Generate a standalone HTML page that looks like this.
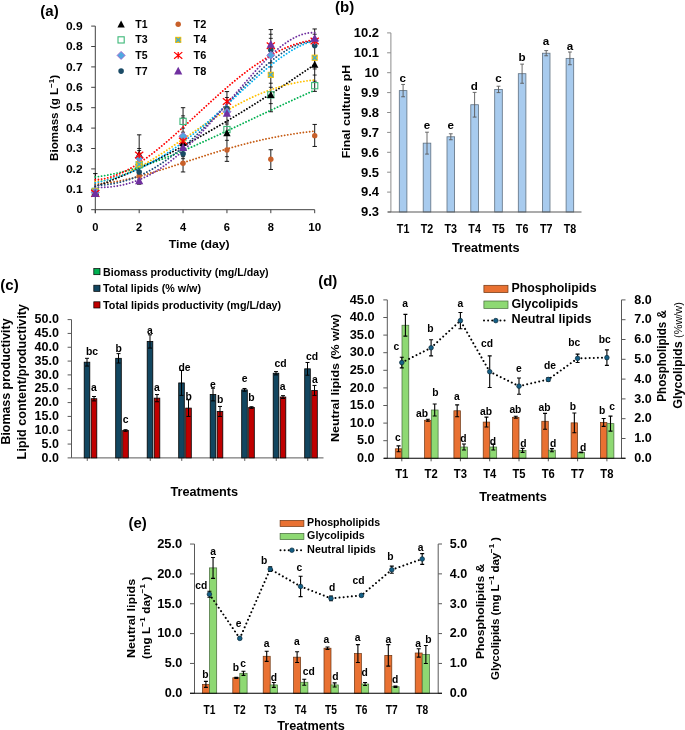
<!DOCTYPE html>
<html><head><meta charset="utf-8"><title>Figure</title>
<style>
html,body{margin:0;padding:0;background:#fff;}
body{width:685px;height:730px;overflow:hidden;}
svg{display:block;font-family:"Liberation Sans", sans-serif;font-weight:bold;will-change:transform;}
</style></head>
<body>
<svg width="685" height="730" viewBox="0 0 685 730">
<rect width="685" height="730" fill="#fff"/>
<text x="40.30" y="15.80" font-size="15" text-anchor="start">(a)</text>
<line x1="95.30" y1="26.10" x2="95.30" y2="213.20" stroke="#404040" stroke-width="1"/>
<line x1="95.30" y1="209.70" x2="314.70" y2="209.70" stroke="#404040" stroke-width="1"/>
<line x1="91.20" y1="209.70" x2="95.30" y2="209.70" stroke="#404040" stroke-width="1"/>
<text x="82.60" y="213.30" font-size="11.7" text-anchor="end" textLength="6.20" lengthAdjust="spacingAndGlyphs">0</text>
<line x1="91.20" y1="189.30" x2="95.30" y2="189.30" stroke="#404040" stroke-width="1"/>
<text x="82.60" y="192.90" font-size="11.7" text-anchor="end" textLength="16.70" lengthAdjust="spacingAndGlyphs">0.1</text>
<line x1="91.20" y1="168.90" x2="95.30" y2="168.90" stroke="#404040" stroke-width="1"/>
<text x="82.60" y="172.50" font-size="11.7" text-anchor="end" textLength="16.70" lengthAdjust="spacingAndGlyphs">0.2</text>
<line x1="91.20" y1="148.50" x2="95.30" y2="148.50" stroke="#404040" stroke-width="1"/>
<text x="82.60" y="152.10" font-size="11.7" text-anchor="end" textLength="16.70" lengthAdjust="spacingAndGlyphs">0.3</text>
<line x1="91.20" y1="128.10" x2="95.30" y2="128.10" stroke="#404040" stroke-width="1"/>
<text x="82.60" y="131.70" font-size="11.7" text-anchor="end" textLength="16.70" lengthAdjust="spacingAndGlyphs">0.4</text>
<line x1="91.20" y1="107.70" x2="95.30" y2="107.70" stroke="#404040" stroke-width="1"/>
<text x="82.60" y="111.30" font-size="11.7" text-anchor="end" textLength="16.70" lengthAdjust="spacingAndGlyphs">0.5</text>
<line x1="91.20" y1="87.30" x2="95.30" y2="87.30" stroke="#404040" stroke-width="1"/>
<text x="82.60" y="90.90" font-size="11.7" text-anchor="end" textLength="16.70" lengthAdjust="spacingAndGlyphs">0.6</text>
<line x1="91.20" y1="66.90" x2="95.30" y2="66.90" stroke="#404040" stroke-width="1"/>
<text x="82.60" y="70.50" font-size="11.7" text-anchor="end" textLength="16.70" lengthAdjust="spacingAndGlyphs">0.7</text>
<line x1="91.20" y1="46.50" x2="95.30" y2="46.50" stroke="#404040" stroke-width="1"/>
<text x="82.60" y="50.10" font-size="11.7" text-anchor="end" textLength="16.70" lengthAdjust="spacingAndGlyphs">0.8</text>
<line x1="91.20" y1="26.10" x2="95.30" y2="26.10" stroke="#404040" stroke-width="1"/>
<text x="82.60" y="29.70" font-size="11.7" text-anchor="end" textLength="16.70" lengthAdjust="spacingAndGlyphs">0.9</text>
<line x1="95.30" y1="209.70" x2="95.30" y2="213.20" stroke="#404040" stroke-width="1"/>
<text x="95.30" y="230.50" font-size="11.7" text-anchor="middle" textLength="6.20" lengthAdjust="spacingAndGlyphs">0</text>
<line x1="139.18" y1="209.70" x2="139.18" y2="213.20" stroke="#404040" stroke-width="1"/>
<text x="139.18" y="230.50" font-size="11.7" text-anchor="middle" textLength="6.20" lengthAdjust="spacingAndGlyphs">2</text>
<line x1="183.06" y1="209.70" x2="183.06" y2="213.20" stroke="#404040" stroke-width="1"/>
<text x="183.06" y="230.50" font-size="11.7" text-anchor="middle" textLength="6.20" lengthAdjust="spacingAndGlyphs">4</text>
<line x1="226.94" y1="209.70" x2="226.94" y2="213.20" stroke="#404040" stroke-width="1"/>
<text x="226.94" y="230.50" font-size="11.7" text-anchor="middle" textLength="6.20" lengthAdjust="spacingAndGlyphs">6</text>
<line x1="270.82" y1="209.70" x2="270.82" y2="213.20" stroke="#404040" stroke-width="1"/>
<text x="270.82" y="230.50" font-size="11.7" text-anchor="middle" textLength="6.20" lengthAdjust="spacingAndGlyphs">8</text>
<line x1="314.70" y1="209.70" x2="314.70" y2="213.20" stroke="#404040" stroke-width="1"/>
<text x="314.70" y="230.50" font-size="11.7" text-anchor="middle" textLength="13.00" lengthAdjust="spacingAndGlyphs">10</text>
<text x="199.20" y="248.00" font-size="11.7" text-anchor="middle" textLength="60.90" lengthAdjust="spacingAndGlyphs">Time (day)</text>
<text x="0" y="0" font-size="11.7" text-anchor="middle" transform="translate(58.30 117.90) rotate(-90)" textLength="86.0" lengthAdjust="spacingAndGlyphs">Biomass (g L<tspan dy="-4.5" font-size="8">−1</tspan><tspan dy="4.5">)</tspan></text>
<path d="M95.30,173.59V195.01M93.10,173.59H97.50M93.10,195.01H97.50" stroke="#000" stroke-width="0.9" fill="none"/>
<path d="M139.18,134.83V184.20M136.98,134.83H141.38M136.98,184.20H141.38" stroke="#000" stroke-width="0.9" fill="none"/>
<path d="M183.06,107.70V171.96M180.86,107.70H185.26M180.86,171.96H185.26" stroke="#000" stroke-width="0.9" fill="none"/>
<path d="M226.94,91.58V161.35M224.74,91.58H229.14M224.74,161.35H229.14" stroke="#000" stroke-width="0.9" fill="none"/>
<path d="M270.82,29.57V111.78M268.62,29.57H273.02M268.62,111.78H273.02" stroke="#000" stroke-width="0.9" fill="none"/>
<path d="M314.70,28.96V91.38M312.50,28.96H316.90M312.50,91.38H316.90" stroke="#000" stroke-width="0.9" fill="none"/>
<path d="M270.82,149.72V169.51M268.62,149.72H273.02M268.62,169.51H273.02" stroke="#000" stroke-width="0.9" fill="none"/>
<path d="M314.70,124.43V146.46M312.50,124.43H316.90M312.50,146.46H316.90" stroke="#000" stroke-width="0.9" fill="none"/>
<line x1="137.18" y1="150.54" x2="141.18" y2="150.54" stroke="#000" stroke-width="0.8"/>
<line x1="137.18" y1="148.50" x2="141.18" y2="148.50" stroke="#000" stroke-width="0.8"/>
<line x1="137.18" y1="160.74" x2="141.18" y2="160.74" stroke="#000" stroke-width="0.8"/>
<line x1="137.18" y1="166.86" x2="141.18" y2="166.86" stroke="#000" stroke-width="0.8"/>
<line x1="137.18" y1="179.10" x2="141.18" y2="179.10" stroke="#000" stroke-width="0.8"/>
<line x1="181.06" y1="117.90" x2="185.06" y2="117.90" stroke="#000" stroke-width="0.8"/>
<line x1="181.06" y1="115.86" x2="185.06" y2="115.86" stroke="#000" stroke-width="0.8"/>
<line x1="181.06" y1="128.10" x2="185.06" y2="128.10" stroke="#000" stroke-width="0.8"/>
<line x1="181.06" y1="132.18" x2="185.06" y2="132.18" stroke="#000" stroke-width="0.8"/>
<line x1="181.06" y1="158.70" x2="185.06" y2="158.70" stroke="#000" stroke-width="0.8"/>
<line x1="181.06" y1="156.66" x2="185.06" y2="156.66" stroke="#000" stroke-width="0.8"/>
<line x1="224.94" y1="97.50" x2="228.94" y2="97.50" stroke="#000" stroke-width="0.8"/>
<line x1="224.94" y1="121.98" x2="228.94" y2="121.98" stroke="#000" stroke-width="0.8"/>
<line x1="224.94" y1="124.02" x2="228.94" y2="124.02" stroke="#000" stroke-width="0.8"/>
<line x1="224.94" y1="140.34" x2="228.94" y2="140.34" stroke="#000" stroke-width="0.8"/>
<line x1="224.94" y1="148.50" x2="228.94" y2="148.50" stroke="#000" stroke-width="0.8"/>
<line x1="224.94" y1="156.66" x2="228.94" y2="156.66" stroke="#000" stroke-width="0.8"/>
<line x1="268.82" y1="34.26" x2="272.82" y2="34.26" stroke="#000" stroke-width="0.8"/>
<line x1="268.82" y1="38.34" x2="272.82" y2="38.34" stroke="#000" stroke-width="0.8"/>
<line x1="268.82" y1="62.82" x2="272.82" y2="62.82" stroke="#000" stroke-width="0.8"/>
<line x1="268.82" y1="66.90" x2="272.82" y2="66.90" stroke="#000" stroke-width="0.8"/>
<line x1="268.82" y1="83.22" x2="272.82" y2="83.22" stroke="#000" stroke-width="0.8"/>
<line x1="268.82" y1="87.30" x2="272.82" y2="87.30" stroke="#000" stroke-width="0.8"/>
<line x1="268.82" y1="103.62" x2="272.82" y2="103.62" stroke="#000" stroke-width="0.8"/>
<line x1="312.70" y1="34.26" x2="316.70" y2="34.26" stroke="#000" stroke-width="0.8"/>
<line x1="312.70" y1="68.94" x2="316.70" y2="68.94" stroke="#000" stroke-width="0.8"/>
<line x1="312.70" y1="75.06" x2="316.70" y2="75.06" stroke="#000" stroke-width="0.8"/>
<line x1="312.70" y1="81.18" x2="316.70" y2="81.18" stroke="#000" stroke-width="0.8"/>
<path d="M95.30,184.26 L97.49,184.10 L99.69,183.91 L101.88,183.70 L104.08,183.45 L106.27,183.17 L108.46,182.87 L110.66,182.55 L112.85,182.19 L115.05,181.82 L117.24,181.42 L119.43,180.99 L121.63,180.55 L123.82,180.09 L126.02,179.60 L128.21,179.10 L130.40,178.58 L132.60,178.04 L134.79,177.49 L136.99,176.92 L139.18,176.34 L141.37,175.74 L143.57,175.14 L145.76,174.51 L147.96,173.88 L150.15,173.24 L152.34,172.59 L154.54,171.92 L156.73,171.25 L158.93,170.57 L161.12,169.89 L163.31,169.20 L165.51,168.50 L167.70,167.80 L169.90,167.09 L172.09,166.38 L174.28,165.67 L176.48,164.95 L178.67,164.23 L180.87,163.51 L183.06,162.79 L185.25,162.07 L187.45,161.35 L189.64,160.63 L191.84,159.91 L194.03,159.19 L196.22,158.48 L198.42,157.76 L200.61,157.05 L202.81,156.35 L205.00,155.64 L207.19,154.95 L209.39,154.25 L211.58,153.57 L213.78,152.88 L215.97,152.21 L218.16,151.53 L220.36,150.87 L222.55,150.21 L224.75,149.56 L226.94,148.92 L229.13,148.28 L231.33,147.66 L233.52,147.04 L235.72,146.43 L237.91,145.83 L240.10,145.23 L242.30,144.65 L244.49,144.08 L246.69,143.51 L248.88,142.96 L251.07,142.41 L253.27,141.88 L255.46,141.35 L257.66,140.84 L259.85,140.33 L262.04,139.84 L264.24,139.35 L266.43,138.88 L268.63,138.42 L270.82,137.97 L273.01,137.53 L275.21,137.10 L277.40,136.68 L279.60,136.27 L281.79,135.87 L283.98,135.48 L286.18,135.11 L288.37,134.74 L290.57,134.38 L292.76,134.04 L294.95,133.70 L297.15,133.38 L299.34,133.06 L301.54,132.75 L303.73,132.46 L305.92,132.17 L308.12,131.89 L310.31,131.63 L312.51,131.37 L314.70,131.12" fill="none" stroke="#C55A11" stroke-width="1.85" stroke-dasharray="0.01 3.15" stroke-linecap="round"/>
<path d="M95.30,176.97 L97.49,176.69 L99.69,176.39 L101.88,176.06 L104.08,175.71 L106.27,175.33 L108.46,174.93 L110.66,174.50 L112.85,174.06 L115.05,173.59 L117.24,173.10 L119.43,172.58 L121.63,172.05 L123.82,171.50 L126.02,170.93 L128.21,170.34 L130.40,169.73 L132.60,169.10 L134.79,168.45 L136.99,167.79 L139.18,167.11 L141.37,166.42 L143.57,165.71 L145.76,164.98 L147.96,164.24 L150.15,163.48 L152.34,162.71 L154.54,161.93 L156.73,161.13 L158.93,160.32 L161.12,159.50 L163.31,158.67 L165.51,157.82 L167.70,156.96 L169.90,156.10 L172.09,155.22 L174.28,154.33 L176.48,153.43 L178.67,152.53 L180.87,151.61 L183.06,150.69 L185.25,149.76 L187.45,148.82 L189.64,147.87 L191.84,146.92 L194.03,145.95 L196.22,144.99 L198.42,144.01 L200.61,143.03 L202.81,142.05 L205.00,141.06 L207.19,140.06 L209.39,139.06 L211.58,138.06 L213.78,137.05 L215.97,136.04 L218.16,135.02 L220.36,134.01 L222.55,132.98 L224.75,131.96 L226.94,130.93 L229.13,129.91 L231.33,128.87 L233.52,127.84 L235.72,126.81 L237.91,125.77 L240.10,124.74 L242.30,123.70 L244.49,122.67 L246.69,121.63 L248.88,120.59 L251.07,119.55 L253.27,118.52 L255.46,117.48 L257.66,116.44 L259.85,115.41 L262.04,114.37 L264.24,113.34 L266.43,112.31 L268.63,111.28 L270.82,110.25 L273.01,109.23 L275.21,108.20 L277.40,107.18 L279.60,106.16 L281.79,105.14 L283.98,104.13 L286.18,103.11 L288.37,102.10 L290.57,101.10 L292.76,100.09 L294.95,99.09 L297.15,98.09 L299.34,97.10 L301.54,96.10 L303.73,95.12 L305.92,94.13 L308.12,93.15 L310.31,92.17 L312.51,91.20 L314.70,90.23" fill="none" stroke="#00B050" stroke-width="1.85" stroke-dasharray="0.01 3.15" stroke-linecap="round"/>
<path d="M95.30,186.51 L97.49,185.72 L99.69,184.92 L101.88,184.10 L104.08,183.27 L106.27,182.43 L108.46,181.58 L110.66,180.71 L112.85,179.82 L115.05,178.93 L117.24,178.02 L119.43,177.10 L121.63,176.17 L123.82,175.23 L126.02,174.27 L128.21,173.30 L130.40,172.33 L132.60,171.34 L134.79,170.34 L136.99,169.33 L139.18,168.31 L141.37,167.28 L143.57,166.25 L145.76,165.20 L147.96,164.14 L150.15,163.07 L152.34,162.00 L154.54,160.91 L156.73,159.82 L158.93,158.72 L161.12,157.61 L163.31,156.49 L165.51,155.36 L167.70,154.23 L169.90,153.08 L172.09,151.93 L174.28,150.78 L176.48,149.61 L178.67,148.44 L180.87,147.26 L183.06,146.08 L185.25,144.88 L187.45,143.68 L189.64,142.48 L191.84,141.26 L194.03,140.05 L196.22,138.82 L198.42,137.59 L200.61,136.35 L202.81,135.11 L205.00,133.86 L207.19,132.60 L209.39,131.34 L211.58,130.07 L213.78,128.80 L215.97,127.52 L218.16,126.24 L220.36,124.95 L222.55,123.65 L224.75,122.35 L226.94,121.05 L229.13,119.74 L231.33,118.42 L233.52,117.10 L235.72,115.77 L237.91,114.44 L240.10,113.10 L242.30,111.76 L244.49,110.42 L246.69,109.06 L248.88,107.71 L251.07,106.34 L253.27,104.98 L255.46,103.60 L257.66,102.22 L259.85,100.84 L262.04,99.45 L264.24,98.06 L266.43,96.66 L268.63,95.26 L270.82,93.85 L273.01,92.43 L275.21,91.01 L277.40,89.59 L279.60,88.16 L281.79,86.72 L283.98,85.28 L286.18,83.83 L288.37,82.37 L290.57,80.91 L292.76,79.45 L294.95,77.98 L297.15,76.50 L299.34,75.02 L301.54,73.53 L303.73,72.03 L305.92,70.53 L308.12,69.02 L310.31,67.50 L312.51,65.98 L314.70,64.45" fill="none" stroke="#000000" stroke-width="1.85" stroke-dasharray="0.01 3.15" stroke-linecap="round"/>
<path d="M95.30,181.49 L97.49,181.35 L99.69,181.13 L101.88,180.85 L104.08,180.49 L106.27,180.06 L108.46,179.57 L110.66,179.02 L112.85,178.41 L115.05,177.74 L117.24,177.01 L119.43,176.23 L121.63,175.40 L123.82,174.51 L126.02,173.58 L128.21,172.61 L130.40,171.59 L132.60,170.53 L134.79,169.44 L136.99,168.30 L139.18,167.13 L141.37,165.93 L143.57,164.70 L145.76,163.43 L147.96,162.14 L150.15,160.83 L152.34,159.49 L154.54,158.12 L156.73,156.74 L158.93,155.34 L161.12,153.92 L163.31,152.49 L165.51,151.04 L167.70,149.59 L169.90,148.12 L172.09,146.64 L174.28,145.15 L176.48,143.66 L178.67,142.16 L180.87,140.66 L183.06,139.16 L185.25,137.66 L187.45,136.15 L189.64,134.65 L191.84,133.16 L194.03,131.67 L196.22,130.18 L198.42,128.70 L200.61,127.23 L202.81,125.77 L205.00,124.32 L207.19,122.88 L209.39,121.45 L211.58,120.03 L213.78,118.63 L215.97,117.25 L218.16,115.88 L220.36,114.52 L222.55,113.19 L224.75,111.87 L226.94,110.58 L229.13,109.30 L231.33,108.05 L233.52,106.81 L235.72,105.60 L237.91,104.41 L240.10,103.25 L242.30,102.11 L244.49,100.99 L246.69,99.90 L248.88,98.83 L251.07,97.79 L253.27,96.78 L255.46,95.80 L257.66,94.84 L259.85,93.91 L262.04,93.01 L264.24,92.13 L266.43,91.28 L268.63,90.47 L270.82,89.68 L273.01,88.92 L275.21,88.19 L277.40,87.49 L279.60,86.82 L281.79,86.18 L283.98,85.57 L286.18,84.99 L288.37,84.43 L290.57,83.91 L292.76,83.42 L294.95,82.95 L297.15,82.51 L299.34,82.11 L301.54,81.73 L303.73,81.38 L305.92,81.06 L308.12,80.76 L310.31,80.50 L312.51,80.26 L314.70,80.05" fill="none" stroke="#FFC000" stroke-width="1.85" stroke-dasharray="0.01 3.15" stroke-linecap="round"/>
<path d="M95.30,185.34 L97.49,185.29 L99.69,185.19 L101.88,185.06 L104.08,184.88 L106.27,184.66 L108.46,184.39 L110.66,184.08 L112.85,183.73 L115.05,183.33 L117.24,182.88 L119.43,182.38 L121.63,181.84 L123.82,181.25 L126.02,180.61 L128.21,179.93 L130.40,179.19 L132.60,178.41 L134.79,177.57 L136.99,176.69 L139.18,175.75 L141.37,174.77 L143.57,173.74 L145.76,172.66 L147.96,171.52 L150.15,170.34 L152.34,169.12 L154.54,167.84 L156.73,166.51 L158.93,165.14 L161.12,163.72 L163.31,162.26 L165.51,160.75 L167.70,159.19 L169.90,157.59 L172.09,155.95 L174.28,154.27 L176.48,152.54 L178.67,150.77 L180.87,148.96 L183.06,147.12 L185.25,145.24 L187.45,143.32 L189.64,141.36 L191.84,139.38 L194.03,137.36 L196.22,135.31 L198.42,133.23 L200.61,131.12 L202.81,128.99 L205.00,126.83 L207.19,124.65 L209.39,122.45 L211.58,120.24 L213.78,118.00 L215.97,115.75 L218.16,113.48 L220.36,111.21 L222.55,108.92 L224.75,106.63 L226.94,104.34 L229.13,102.04 L231.33,99.74 L233.52,97.45 L235.72,95.16 L237.91,92.88 L240.10,90.60 L242.30,88.34 L244.49,86.10 L246.69,83.87 L248.88,81.67 L251.07,79.49 L253.27,77.33 L255.46,75.21 L257.66,73.12 L259.85,71.06 L262.04,69.05 L264.24,67.07 L266.43,65.14 L268.63,63.26 L270.82,61.44 L273.01,59.67 L275.21,57.95 L277.40,56.30 L279.60,54.72 L281.79,53.21 L283.98,51.77 L286.18,50.40 L288.37,49.12 L290.57,47.93 L292.76,46.82 L294.95,45.81 L297.15,44.89 L299.34,44.08 L301.54,43.37 L303.73,42.77 L305.92,42.28 L308.12,41.92 L310.31,41.67 L312.51,41.55 L314.70,41.57" fill="none" stroke="#1F4E79" stroke-width="1.85" stroke-dasharray="0.01 3.15" stroke-linecap="round"/>
<path d="M95.30,182.88 L97.49,182.38 L99.69,181.87 L101.88,181.34 L104.08,180.79 L106.27,180.22 L108.46,179.63 L110.66,179.02 L112.85,178.38 L115.05,177.72 L117.24,177.03 L119.43,176.32 L121.63,175.57 L123.82,174.81 L126.02,174.01 L128.21,173.18 L130.40,172.33 L132.60,171.44 L134.79,170.53 L136.99,169.58 L139.18,168.60 L141.37,167.59 L143.57,166.54 L145.76,165.46 L147.96,164.36 L150.15,163.21 L152.34,162.04 L154.54,160.83 L156.73,159.58 L158.93,158.31 L161.12,157.00 L163.31,155.66 L165.51,154.28 L167.70,152.88 L169.90,151.44 L172.09,149.96 L174.28,148.46 L176.48,146.92 L178.67,145.36 L180.87,143.76 L183.06,142.14 L185.25,140.48 L187.45,138.80 L189.64,137.09 L191.84,135.35 L194.03,133.59 L196.22,131.80 L198.42,129.98 L200.61,128.14 L202.81,126.29 L205.00,124.40 L207.19,122.50 L209.39,120.58 L211.58,118.64 L213.78,116.69 L215.97,114.72 L218.16,112.73 L220.36,110.74 L222.55,108.73 L224.75,106.71 L226.94,104.69 L229.13,102.65 L231.33,100.62 L233.52,98.57 L235.72,96.53 L237.91,94.49 L240.10,92.45 L242.30,90.42 L244.49,88.39 L246.69,86.37 L248.88,84.35 L251.07,82.36 L253.27,80.37 L255.46,78.40 L257.66,76.45 L259.85,74.52 L262.04,72.62 L264.24,70.74 L266.43,68.89 L268.63,67.07 L270.82,65.28 L273.01,63.53 L275.21,61.81 L277.40,60.14 L279.60,58.51 L281.79,56.93 L283.98,55.39 L286.18,53.91 L288.37,52.49 L290.57,51.12 L292.76,49.81 L294.95,48.57 L297.15,47.39 L299.34,46.29 L301.54,45.26 L303.73,44.30 L305.92,43.43 L308.12,42.64 L310.31,41.93 L312.51,41.32 L314.70,40.80" fill="none" stroke="#00B0F0" stroke-width="1.85" stroke-dasharray="0.01 3.15" stroke-linecap="round"/>
<path d="M95.30,187.31 L97.49,187.37 L99.69,187.39 L101.88,187.37 L104.08,187.31 L106.27,187.20 L108.46,187.05 L110.66,186.86 L112.85,186.62 L115.05,186.33 L117.24,186.00 L119.43,185.61 L121.63,185.18 L123.82,184.69 L126.02,184.15 L128.21,183.55 L130.40,182.90 L132.60,182.20 L134.79,181.44 L136.99,180.62 L139.18,179.75 L141.37,178.83 L143.57,177.84 L145.76,176.80 L147.96,175.71 L150.15,174.55 L152.34,173.34 L154.54,172.07 L156.73,170.75 L158.93,169.37 L161.12,167.93 L163.31,166.44 L165.51,164.89 L167.70,163.29 L169.90,161.64 L172.09,159.93 L174.28,158.18 L176.48,156.37 L178.67,154.51 L180.87,152.60 L183.06,150.64 L185.25,148.64 L187.45,146.59 L189.64,144.50 L191.84,142.36 L194.03,140.18 L196.22,137.97 L198.42,135.71 L200.61,133.42 L202.81,131.10 L205.00,128.74 L207.19,126.35 L209.39,123.94 L211.58,121.49 L213.78,119.02 L215.97,116.54 L218.16,114.03 L220.36,111.50 L222.55,108.96 L224.75,106.40 L226.94,103.84 L229.13,101.27 L231.33,98.70 L233.52,96.12 L235.72,93.55 L237.91,90.98 L240.10,88.41 L242.30,85.86 L244.49,83.33 L246.69,80.81 L248.88,78.31 L251.07,75.83 L253.27,73.38 L255.46,70.97 L257.66,68.59 L259.85,66.25 L262.04,63.95 L264.24,61.69 L266.43,59.49 L268.63,57.34 L270.82,55.25 L273.01,53.22 L275.21,51.26 L277.40,49.38 L279.60,47.56 L281.79,45.83 L283.98,44.18 L286.18,42.63 L288.37,41.16 L290.57,39.80 L292.76,38.54 L294.95,37.39 L297.15,36.35 L299.34,35.44 L301.54,34.64 L303.73,33.98 L305.92,33.45 L308.12,33.06 L310.31,32.82 L312.51,32.73 L314.70,32.79" fill="none" stroke="#7030A0" stroke-width="1.85" stroke-dasharray="0.01 3.15" stroke-linecap="round"/>
<path d="M95.30,179.75 L97.49,179.63 L99.69,179.41 L101.88,179.11 L104.08,178.73 L106.27,178.26 L108.46,177.71 L110.66,177.09 L112.85,176.39 L115.05,175.62 L117.24,174.78 L119.43,173.87 L121.63,172.90 L123.82,171.86 L126.02,170.76 L128.21,169.60 L130.40,168.39 L132.60,167.12 L134.79,165.79 L136.99,164.42 L139.18,163.00 L141.37,161.53 L143.57,160.01 L145.76,158.45 L147.96,156.86 L150.15,155.22 L152.34,153.55 L154.54,151.84 L156.73,150.09 L158.93,148.32 L161.12,146.52 L163.31,144.69 L165.51,142.84 L167.70,140.96 L169.90,139.06 L172.09,137.14 L174.28,135.20 L176.48,133.24 L178.67,131.27 L180.87,129.29 L183.06,127.29 L185.25,125.29 L187.45,123.28 L189.64,121.26 L191.84,119.23 L194.03,117.20 L196.22,115.18 L198.42,113.15 L200.61,111.12 L202.81,109.10 L205.00,107.08 L207.19,105.06 L209.39,103.06 L211.58,101.06 L213.78,99.07 L215.97,97.10 L218.16,95.13 L220.36,93.19 L222.55,91.26 L224.75,89.34 L226.94,87.45 L229.13,85.57 L231.33,83.72 L233.52,81.89 L235.72,80.08 L237.91,78.29 L240.10,76.54 L242.30,74.81 L244.49,73.11 L246.69,71.44 L248.88,69.80 L251.07,68.19 L253.27,66.62 L255.46,65.08 L257.66,63.57 L259.85,62.11 L262.04,60.68 L264.24,59.29 L266.43,57.93 L268.63,56.62 L270.82,55.35 L273.01,54.12 L275.21,52.94 L277.40,51.80 L279.60,50.70 L281.79,49.65 L283.98,48.65 L286.18,47.70 L288.37,46.79 L290.57,45.94 L292.76,45.13 L294.95,44.38 L297.15,43.67 L299.34,43.02 L301.54,42.42 L303.73,41.88 L305.92,41.39 L308.12,40.95 L310.31,40.58 L312.51,40.25 L314.70,39.99" fill="none" stroke="#FF0000" stroke-width="1.85" stroke-dasharray="0.01 3.15" stroke-linecap="round"/>
<circle cx="95.30" cy="192.36" r="2.7" fill="#C8602A" stroke="none" stroke-width="0.6"/>
<circle cx="139.18" cy="176.04" r="2.7" fill="#C8602A" stroke="none" stroke-width="0.6"/>
<circle cx="183.06" cy="163.19" r="2.7" fill="#C8602A" stroke="none" stroke-width="0.6"/>
<circle cx="226.94" cy="149.93" r="2.7" fill="#C8602A" stroke="none" stroke-width="0.6"/>
<circle cx="270.82" cy="159.31" r="2.7" fill="#C8602A" stroke="none" stroke-width="0.6"/>
<circle cx="314.70" cy="135.65" r="2.7" fill="#C8602A" stroke="none" stroke-width="0.6"/>
<rect x="92.20" y="188.24" width="6.2" height="6.2" fill="none" stroke="#3CB878" stroke-width="1.1"/>
<rect x="136.08" y="161.72" width="6.2" height="6.2" fill="none" stroke="#3CB878" stroke-width="1.1"/>
<rect x="179.96" y="118.27" width="6.2" height="6.2" fill="none" stroke="#3CB878" stroke-width="1.1"/>
<rect x="223.84" y="126.43" width="6.2" height="6.2" fill="none" stroke="#3CB878" stroke-width="1.1"/>
<rect x="267.72" y="91.75" width="6.2" height="6.2" fill="none" stroke="#3CB878" stroke-width="1.1"/>
<rect x="311.60" y="82.57" width="6.2" height="6.2" fill="none" stroke="#3CB878" stroke-width="1.1"/>
<polygon points="95.30,188.49 99.00,195.52 91.60,195.52" fill="#000"/>
<polygon points="139.18,150.55 142.88,157.58 135.48,157.58" fill="#000"/>
<polygon points="183.06,138.92 186.76,145.95 179.36,145.95" fill="#000"/>
<polygon points="226.94,129.13 230.64,136.16 223.24,136.16" fill="#000"/>
<polygon points="270.82,90.98 274.52,98.01 267.12,98.01" fill="#000"/>
<polygon points="314.70,60.79 318.40,67.82 311.00,67.82" fill="#000"/>
<rect x="92.20" y="188.24" width="6.2" height="6.2" fill="#FFC000"/>
<path d="M93.07,189.11L97.53,193.57M97.53,189.11L93.07,193.57" stroke="#4BACC6" stroke-width="1.5"/>
<rect x="136.08" y="161.11" width="6.2" height="6.2" fill="#FFC000"/>
<path d="M136.95,161.98L141.41,166.44M141.41,161.98L136.95,166.44" stroke="#4BACC6" stroke-width="1.5"/>
<rect x="179.96" y="135.20" width="6.2" height="6.2" fill="#FFC000"/>
<path d="M180.83,136.07L185.29,140.53M185.29,136.07L180.83,140.53" stroke="#4BACC6" stroke-width="1.5"/>
<rect x="223.84" y="106.64" width="6.2" height="6.2" fill="#FFC000"/>
<path d="M224.71,107.51L229.17,111.97M229.17,107.51L224.71,111.97" stroke="#4BACC6" stroke-width="1.5"/>
<rect x="267.72" y="71.76" width="6.2" height="6.2" fill="#FFC000"/>
<path d="M268.59,72.62L273.05,77.09M273.05,72.62L268.59,77.09" stroke="#4BACC6" stroke-width="1.5"/>
<rect x="311.60" y="54.62" width="6.2" height="6.2" fill="#FFC000"/>
<path d="M312.47,55.49L316.93,59.95M316.93,55.49L312.47,59.95" stroke="#4BACC6" stroke-width="1.5"/>
<circle cx="95.30" cy="192.36" r="2.8" fill="#1B4B66" stroke="none" stroke-width="0.6"/>
<circle cx="139.18" cy="171.96" r="2.8" fill="#1B4B66" stroke="none" stroke-width="0.6"/>
<circle cx="183.06" cy="153.80" r="2.8" fill="#1B4B66" stroke="none" stroke-width="0.6"/>
<circle cx="226.94" cy="108.52" r="2.8" fill="#1B4B66" stroke="none" stroke-width="0.6"/>
<circle cx="270.82" cy="49.97" r="2.8" fill="#1B4B66" stroke="none" stroke-width="0.6"/>
<circle cx="314.70" cy="45.48" r="2.8" fill="#1B4B66" stroke="none" stroke-width="0.6"/>
<polygon points="95.30,188.36 99.30,192.36 95.30,196.36 91.30,192.36" fill="#4FA8E0" stroke="#A064C8" stroke-width="0.9"/>
<polygon points="139.18,153.88 143.18,157.88 139.18,161.88 135.18,157.88" fill="#4FA8E0" stroke="#A064C8" stroke-width="0.9"/>
<polygon points="183.06,132.26 187.06,136.26 183.06,140.26 179.06,136.26" fill="#4FA8E0" stroke="#A064C8" stroke-width="0.9"/>
<polygon points="226.94,107.78 230.94,111.78 226.94,115.78 222.94,111.78" fill="#4FA8E0" stroke="#A064C8" stroke-width="0.9"/>
<polygon points="270.82,51.27 274.82,55.27 270.82,59.27 266.82,55.27" fill="#4FA8E0" stroke="#A064C8" stroke-width="0.9"/>
<polygon points="314.70,36.38 318.70,40.38 314.70,44.38 310.70,40.38" fill="#4FA8E0" stroke="#A064C8" stroke-width="0.9"/>
<path d="M91.20,190.10L99.40,196.66M99.40,190.10L91.20,196.66M95.30,190.10L95.30,196.66" stroke="#FF0000" stroke-width="1.25"/>
<path d="M135.08,151.75L143.28,158.31M143.28,151.75L135.08,158.31M139.18,151.75L139.18,158.31" stroke="#FF0000" stroke-width="1.25"/>
<path d="M178.96,137.67L187.16,144.23M187.16,137.67L178.96,144.23M183.06,137.67L183.06,144.23" stroke="#FF0000" stroke-width="1.25"/>
<path d="M222.84,98.30L231.04,104.86M231.04,98.30L222.84,104.86M226.94,98.30L226.94,104.86" stroke="#FF0000" stroke-width="1.25"/>
<path d="M266.72,42.40L274.92,48.96M274.92,42.40L266.72,48.96M270.82,42.40L270.82,48.96" stroke="#FF0000" stroke-width="1.25"/>
<path d="M310.60,37.71L318.80,44.27M318.80,37.71L310.60,44.27M314.70,37.71L314.70,44.27" stroke="#FF0000" stroke-width="1.25"/>
<polygon points="95.30,189.10 99.40,196.89 91.20,196.89" fill="#7030A0"/>
<polygon points="139.18,176.45 143.28,184.24 135.08,184.24" fill="#7030A0"/>
<polygon points="183.06,143.20 187.16,150.99 178.96,150.99" fill="#7030A0"/>
<polygon points="226.94,108.92 231.04,116.71 222.84,116.71" fill="#7030A0"/>
<polygon points="270.82,39.97 274.92,47.76 266.72,47.76" fill="#7030A0"/>
<polygon points="314.70,34.06 318.80,41.85 310.60,41.85" fill="#7030A0"/>
<polygon points="121.10,20.43 124.80,27.46 117.40,27.46" fill="#000"/>
<circle cx="178.20" cy="24.30" r="2.7" fill="#C8602A" stroke="none" stroke-width="0.6"/>
<text x="135.30" y="27.80" font-size="10.6" text-anchor="start" textLength="12.30" lengthAdjust="spacingAndGlyphs">T1</text>
<text x="193.50" y="27.80" font-size="10.6" text-anchor="start" textLength="12.80" lengthAdjust="spacingAndGlyphs">T2</text>
<rect x="118.00" y="36.80" width="6.2" height="6.2" fill="none" stroke="#3CB878" stroke-width="1.1"/>
<rect x="175.10" y="36.80" width="6.2" height="6.2" fill="#FFC000"/>
<path d="M175.97,37.67L180.43,42.13M180.43,37.67L175.97,42.13" stroke="#4BACC6" stroke-width="1.5"/>
<text x="135.30" y="43.40" font-size="10.6" text-anchor="start" textLength="12.30" lengthAdjust="spacingAndGlyphs">T3</text>
<text x="193.50" y="43.40" font-size="10.6" text-anchor="start" textLength="12.80" lengthAdjust="spacingAndGlyphs">T4</text>
<polygon points="121.10,51.40 125.10,55.40 121.10,59.40 117.10,55.40" fill="#4FA8E0" stroke="#A064C8" stroke-width="0.9"/>
<path d="M174.10,52.12L182.30,58.68M182.30,52.12L174.10,58.68M178.20,52.12L178.20,58.68" stroke="#FF0000" stroke-width="1.25"/>
<text x="135.30" y="58.90" font-size="10.6" text-anchor="start" textLength="12.30" lengthAdjust="spacingAndGlyphs">T5</text>
<text x="193.50" y="58.90" font-size="10.6" text-anchor="start" textLength="12.80" lengthAdjust="spacingAndGlyphs">T6</text>
<circle cx="121.10" cy="71.10" r="2.8" fill="#1B4B66" stroke="none" stroke-width="0.6"/>
<polygon points="178.20,66.82 182.30,74.61 174.10,74.61" fill="#7030A0"/>
<text x="135.30" y="74.60" font-size="10.6" text-anchor="start" textLength="12.30" lengthAdjust="spacingAndGlyphs">T7</text>
<text x="193.50" y="74.60" font-size="10.6" text-anchor="start" textLength="12.80" lengthAdjust="spacingAndGlyphs">T8</text>
<text x="335.00" y="11.60" font-size="15" text-anchor="start">(b)</text>
<line x1="390.90" y1="32.90" x2="390.90" y2="212.00" stroke="#8C8C8C" stroke-width="1"/>
<line x1="387.10" y1="212.00" x2="390.90" y2="212.00" stroke="#8C8C8C" stroke-width="1"/>
<text x="379.00" y="216.30" font-size="13.0" text-anchor="end">9.3</text>
<line x1="387.10" y1="192.10" x2="390.90" y2="192.10" stroke="#8C8C8C" stroke-width="1"/>
<text x="379.00" y="196.40" font-size="13.0" text-anchor="end">9.4</text>
<line x1="387.10" y1="172.20" x2="390.90" y2="172.20" stroke="#8C8C8C" stroke-width="1"/>
<text x="379.00" y="176.50" font-size="13.0" text-anchor="end">9.5</text>
<line x1="387.10" y1="152.30" x2="390.90" y2="152.30" stroke="#8C8C8C" stroke-width="1"/>
<text x="379.00" y="156.60" font-size="13.0" text-anchor="end">9.6</text>
<line x1="387.10" y1="132.40" x2="390.90" y2="132.40" stroke="#8C8C8C" stroke-width="1"/>
<text x="379.00" y="136.70" font-size="13.0" text-anchor="end">9.7</text>
<line x1="387.10" y1="112.50" x2="390.90" y2="112.50" stroke="#8C8C8C" stroke-width="1"/>
<text x="379.00" y="116.80" font-size="13.0" text-anchor="end">9.8</text>
<line x1="387.10" y1="92.60" x2="390.90" y2="92.60" stroke="#8C8C8C" stroke-width="1"/>
<text x="379.00" y="96.90" font-size="13.0" text-anchor="end">9.9</text>
<line x1="387.10" y1="72.70" x2="390.90" y2="72.70" stroke="#8C8C8C" stroke-width="1"/>
<text x="379.00" y="77.00" font-size="13.0" text-anchor="end">10</text>
<line x1="387.10" y1="52.80" x2="390.90" y2="52.80" stroke="#8C8C8C" stroke-width="1"/>
<text x="379.00" y="57.10" font-size="13.0" text-anchor="end">10.1</text>
<line x1="387.10" y1="32.90" x2="390.90" y2="32.90" stroke="#8C8C8C" stroke-width="1"/>
<text x="379.00" y="37.20" font-size="13.0" text-anchor="end">10.2</text>
<rect x="399.30" y="90.61" width="7.60" height="121.39" fill="#A8CBEE" stroke="#5F7080" stroke-width="0.8"/>
<path d="M403.10,84.44V96.78M401.20,84.44H405.00M401.20,96.78H405.00" stroke="#595959" stroke-width="0.9" fill="none"/>
<text x="402.80" y="82.35" font-size="11.6" text-anchor="middle">c</text>
<rect x="423.20" y="143.15" width="7.60" height="68.85" fill="#A8CBEE" stroke="#5F7080" stroke-width="0.8"/>
<path d="M427.00,132.20V154.09M425.10,132.20H428.90M425.10,154.09H428.90" stroke="#595959" stroke-width="0.9" fill="none"/>
<text x="427.00" y="128.55" font-size="11.6" text-anchor="middle">e</text>
<rect x="447.00" y="136.78" width="7.60" height="75.22" fill="#A8CBEE" stroke="#5F7080" stroke-width="0.8"/>
<path d="M450.80,133.79V139.76M448.90,133.79H452.70M448.90,139.76H452.70" stroke="#595959" stroke-width="0.9" fill="none"/>
<text x="450.70" y="128.55" font-size="11.6" text-anchor="middle">e</text>
<rect x="470.80" y="104.74" width="7.60" height="107.26" fill="#A8CBEE" stroke="#5F7080" stroke-width="0.8"/>
<path d="M474.60,92.40V117.08M472.70,92.40H476.50M472.70,117.08H476.50" stroke="#595959" stroke-width="0.9" fill="none"/>
<text x="474.40" y="89.64" font-size="11.6" text-anchor="middle">d</text>
<rect x="494.70" y="89.42" width="7.60" height="122.58" fill="#A8CBEE" stroke="#5F7080" stroke-width="0.8"/>
<path d="M498.50,86.23V92.60M496.60,86.23H500.40M496.60,92.60H500.40" stroke="#595959" stroke-width="0.9" fill="none"/>
<text x="498.40" y="81.65" font-size="11.6" text-anchor="middle">c</text>
<rect x="518.30" y="73.70" width="7.60" height="138.30" fill="#A8CBEE" stroke="#5F7080" stroke-width="0.8"/>
<path d="M522.10,64.14V83.25M520.20,64.14H524.00M520.20,83.25H524.00" stroke="#595959" stroke-width="0.9" fill="none"/>
<text x="521.95" y="60.74" font-size="11.6" text-anchor="middle">b</text>
<rect x="542.40" y="53.20" width="7.60" height="158.80" fill="#A8CBEE" stroke="#5F7080" stroke-width="0.8"/>
<path d="M546.20,50.61V55.78M544.30,50.61H548.10M544.30,55.78H548.10" stroke="#595959" stroke-width="0.9" fill="none"/>
<text x="546.00" y="44.85" font-size="11.6" text-anchor="middle">a</text>
<rect x="566.10" y="58.37" width="7.60" height="153.63" fill="#A8CBEE" stroke="#5F7080" stroke-width="0.8"/>
<path d="M569.90,52.00V64.74M568.00,52.00H571.80M568.00,64.74H571.80" stroke="#595959" stroke-width="0.9" fill="none"/>
<text x="569.90" y="50.05" font-size="11.6" text-anchor="middle">a</text>
<line x1="388.00" y1="212.00" x2="581.50" y2="212.00" stroke="#595959" stroke-width="1.2"/>
<text x="403.10" y="233.20" font-size="12.4" text-anchor="middle" textLength="12.50" lengthAdjust="spacingAndGlyphs">T1</text>
<text x="427.00" y="233.20" font-size="12.4" text-anchor="middle" textLength="12.50" lengthAdjust="spacingAndGlyphs">T2</text>
<text x="450.80" y="233.20" font-size="12.4" text-anchor="middle" textLength="12.50" lengthAdjust="spacingAndGlyphs">T3</text>
<text x="474.60" y="233.20" font-size="12.4" text-anchor="middle" textLength="12.50" lengthAdjust="spacingAndGlyphs">T4</text>
<text x="498.50" y="233.20" font-size="12.4" text-anchor="middle" textLength="12.50" lengthAdjust="spacingAndGlyphs">T5</text>
<text x="522.10" y="233.20" font-size="12.4" text-anchor="middle" textLength="12.50" lengthAdjust="spacingAndGlyphs">T6</text>
<text x="546.20" y="233.20" font-size="12.4" text-anchor="middle" textLength="12.50" lengthAdjust="spacingAndGlyphs">T7</text>
<text x="569.90" y="233.20" font-size="12.4" text-anchor="middle" textLength="12.50" lengthAdjust="spacingAndGlyphs">T8</text>
<text x="485.80" y="251.70" font-size="12.5" text-anchor="middle" textLength="67.41" lengthAdjust="spacingAndGlyphs">Treatments</text>
<text x="0" y="0" font-size="11.8" text-anchor="middle" transform="translate(349.90 111.60) rotate(-90)" textLength="93.5" lengthAdjust="spacingAndGlyphs">Final culture pH</text>
<text x="0.30" y="290.00" font-size="15" text-anchor="start">(c)</text>
<line x1="71.50" y1="319.60" x2="71.50" y2="457.90" stroke="#595959" stroke-width="1"/>
<line x1="71.50" y1="457.90" x2="323.50" y2="457.90" stroke="#595959" stroke-width="1"/>
<line x1="67.60" y1="457.90" x2="71.50" y2="457.90" stroke="#595959" stroke-width="1"/>
<text x="58.90" y="461.50" font-size="12.0" text-anchor="end" textLength="17.30" lengthAdjust="spacingAndGlyphs">0.0</text>
<line x1="67.60" y1="444.07" x2="71.50" y2="444.07" stroke="#595959" stroke-width="1"/>
<text x="58.90" y="447.67" font-size="12.0" text-anchor="end" textLength="17.30" lengthAdjust="spacingAndGlyphs">5.0</text>
<line x1="67.60" y1="430.24" x2="71.50" y2="430.24" stroke="#595959" stroke-width="1"/>
<text x="58.90" y="433.84" font-size="12.0" text-anchor="end" textLength="24.40" lengthAdjust="spacingAndGlyphs">10.0</text>
<line x1="67.60" y1="416.41" x2="71.50" y2="416.41" stroke="#595959" stroke-width="1"/>
<text x="58.90" y="420.01" font-size="12.0" text-anchor="end" textLength="24.40" lengthAdjust="spacingAndGlyphs">15.0</text>
<line x1="67.60" y1="402.58" x2="71.50" y2="402.58" stroke="#595959" stroke-width="1"/>
<text x="58.90" y="406.18" font-size="12.0" text-anchor="end" textLength="24.40" lengthAdjust="spacingAndGlyphs">20.0</text>
<line x1="67.60" y1="388.75" x2="71.50" y2="388.75" stroke="#595959" stroke-width="1"/>
<text x="58.90" y="392.35" font-size="12.0" text-anchor="end" textLength="24.40" lengthAdjust="spacingAndGlyphs">25.0</text>
<line x1="67.60" y1="374.92" x2="71.50" y2="374.92" stroke="#595959" stroke-width="1"/>
<text x="58.90" y="378.52" font-size="12.0" text-anchor="end" textLength="24.40" lengthAdjust="spacingAndGlyphs">30.0</text>
<line x1="67.60" y1="361.09" x2="71.50" y2="361.09" stroke="#595959" stroke-width="1"/>
<text x="58.90" y="364.69" font-size="12.0" text-anchor="end" textLength="24.40" lengthAdjust="spacingAndGlyphs">35.0</text>
<line x1="67.60" y1="347.26" x2="71.50" y2="347.26" stroke="#595959" stroke-width="1"/>
<text x="58.90" y="350.86" font-size="12.0" text-anchor="end" textLength="24.40" lengthAdjust="spacingAndGlyphs">40.0</text>
<line x1="67.60" y1="333.43" x2="71.50" y2="333.43" stroke="#595959" stroke-width="1"/>
<text x="58.90" y="337.03" font-size="12.0" text-anchor="end" textLength="24.40" lengthAdjust="spacingAndGlyphs">45.0</text>
<line x1="67.60" y1="319.60" x2="71.50" y2="319.60" stroke="#595959" stroke-width="1"/>
<text x="58.90" y="323.20" font-size="12.0" text-anchor="end" textLength="24.40" lengthAdjust="spacingAndGlyphs">50.0</text>
<line x1="87.25" y1="457.90" x2="87.25" y2="460.90" stroke="#595959" stroke-width="1"/>
<line x1="118.75" y1="457.90" x2="118.75" y2="460.90" stroke="#595959" stroke-width="1"/>
<line x1="150.25" y1="457.90" x2="150.25" y2="460.90" stroke="#595959" stroke-width="1"/>
<line x1="181.75" y1="457.90" x2="181.75" y2="460.90" stroke="#595959" stroke-width="1"/>
<line x1="213.25" y1="457.90" x2="213.25" y2="460.90" stroke="#595959" stroke-width="1"/>
<line x1="244.75" y1="457.90" x2="244.75" y2="460.90" stroke="#595959" stroke-width="1"/>
<line x1="276.25" y1="457.90" x2="276.25" y2="460.90" stroke="#595959" stroke-width="1"/>
<line x1="307.75" y1="457.90" x2="307.75" y2="460.90" stroke="#595959" stroke-width="1"/>
<rect x="84.20" y="362.20" width="5.60" height="95.70" fill="#124660" stroke="#000" stroke-width="0.8"/>
<rect x="91.20" y="398.71" width="5.60" height="59.19" fill="#C00000" stroke="#000" stroke-width="0.8"/>
<path d="M87.00,358.32V366.07M85.00,358.32H89.00M85.00,366.07H89.00" stroke="#000" stroke-width="1.0" fill="none"/>
<path d="M94.00,396.49V400.92M92.00,396.49H96.00M92.00,400.92H96.00" stroke="#000" stroke-width="1.0" fill="none"/>
<rect x="115.70" y="358.32" width="5.60" height="99.58" fill="#124660" stroke="#000" stroke-width="0.8"/>
<rect x="122.70" y="430.52" width="5.60" height="27.38" fill="#C00000" stroke="#000" stroke-width="0.8"/>
<path d="M118.50,353.62V363.03M116.50,353.62H120.50M116.50,363.03H120.50" stroke="#000" stroke-width="1.0" fill="none"/>
<path d="M125.50,429.69V431.35M123.50,429.69H127.50M123.50,431.35H127.50" stroke="#000" stroke-width="1.0" fill="none"/>
<rect x="147.20" y="341.45" width="5.60" height="116.45" fill="#124660" stroke="#000" stroke-width="0.8"/>
<rect x="154.20" y="398.15" width="5.60" height="59.75" fill="#C00000" stroke="#000" stroke-width="0.8"/>
<path d="M150.00,334.81V348.09M148.00,334.81H152.00M148.00,348.09H152.00" stroke="#000" stroke-width="1.0" fill="none"/>
<path d="M157.00,394.56V401.75M155.00,394.56H159.00M155.00,401.75H159.00" stroke="#000" stroke-width="1.0" fill="none"/>
<rect x="178.70" y="382.94" width="5.60" height="74.96" fill="#124660" stroke="#000" stroke-width="0.8"/>
<rect x="185.70" y="408.11" width="5.60" height="49.79" fill="#C00000" stroke="#000" stroke-width="0.8"/>
<path d="M181.50,370.49V395.39M179.50,370.49H183.50M179.50,395.39H183.50" stroke="#000" stroke-width="1.0" fill="none"/>
<path d="M188.50,399.81V416.41M186.50,399.81H190.50M186.50,416.41H190.50" stroke="#000" stroke-width="1.0" fill="none"/>
<rect x="210.20" y="394.56" width="5.60" height="63.34" fill="#124660" stroke="#000" stroke-width="0.8"/>
<rect x="217.20" y="411.43" width="5.60" height="46.47" fill="#C00000" stroke="#000" stroke-width="0.8"/>
<path d="M213.00,388.20V400.92M211.00,388.20H215.00M211.00,400.92H215.00" stroke="#000" stroke-width="1.0" fill="none"/>
<path d="M220.00,406.45V416.41M218.00,406.45H222.00M218.00,416.41H222.00" stroke="#000" stroke-width="1.0" fill="none"/>
<rect x="241.70" y="389.86" width="5.60" height="68.04" fill="#124660" stroke="#000" stroke-width="0.8"/>
<rect x="248.70" y="407.56" width="5.60" height="50.34" fill="#C00000" stroke="#000" stroke-width="0.8"/>
<path d="M244.50,388.47V391.24M242.50,388.47H246.50M242.50,391.24H246.50" stroke="#000" stroke-width="1.0" fill="none"/>
<path d="M251.50,406.73V408.39M249.50,406.73H253.50M249.50,408.39H253.50" stroke="#000" stroke-width="1.0" fill="none"/>
<rect x="273.20" y="373.26" width="5.60" height="84.64" fill="#124660" stroke="#000" stroke-width="0.8"/>
<rect x="280.20" y="397.05" width="5.60" height="60.85" fill="#C00000" stroke="#000" stroke-width="0.8"/>
<path d="M276.00,371.60V374.92M274.00,371.60H278.00M274.00,374.92H278.00" stroke="#000" stroke-width="1.0" fill="none"/>
<path d="M283.00,395.66V398.43M281.00,395.66H285.00M281.00,398.43H285.00" stroke="#000" stroke-width="1.0" fill="none"/>
<rect x="304.70" y="368.83" width="5.60" height="89.07" fill="#124660" stroke="#000" stroke-width="0.8"/>
<rect x="311.70" y="390.41" width="5.60" height="67.49" fill="#C00000" stroke="#000" stroke-width="0.8"/>
<path d="M307.50,362.47V375.20M305.50,362.47H309.50M305.50,375.20H309.50" stroke="#000" stroke-width="1.0" fill="none"/>
<path d="M314.50,385.43V395.39M312.50,385.43H316.50M312.50,395.39H316.50" stroke="#000" stroke-width="1.0" fill="none"/>
<text x="92.00" y="355.11" font-size="10.4" text-anchor="middle">bc</text>
<text x="93.80" y="390.94" font-size="10.4" text-anchor="middle">a</text>
<text x="118.80" y="351.71" font-size="10.4" text-anchor="middle">b</text>
<text x="125.60" y="422.74" font-size="10.4" text-anchor="middle">c</text>
<text x="149.90" y="334.14" font-size="10.4" text-anchor="middle">a</text>
<text x="157.00" y="390.54" font-size="10.4" text-anchor="middle">a</text>
<text x="184.50" y="370.91" font-size="10.4" text-anchor="middle">de</text>
<text x="188.60" y="400.31" font-size="10.4" text-anchor="middle">b</text>
<text x="212.90" y="387.94" font-size="10.4" text-anchor="middle">e</text>
<text x="220.30" y="403.41" font-size="10.4" text-anchor="middle">b</text>
<text x="244.60" y="382.04" font-size="10.4" text-anchor="middle">e</text>
<text x="251.50" y="401.01" font-size="10.4" text-anchor="middle">b</text>
<text x="280.60" y="366.71" font-size="10.4" text-anchor="middle">cd</text>
<text x="282.70" y="389.94" font-size="10.4" text-anchor="middle">a</text>
<text x="312.10" y="360.31" font-size="10.4" text-anchor="middle">cd</text>
<text x="314.80" y="382.84" font-size="10.4" text-anchor="middle">a</text>
<text x="204.30" y="495.80" font-size="12.5" text-anchor="middle" textLength="67.71" lengthAdjust="spacingAndGlyphs">Treatments</text>
<rect x="93.80" y="268.50" width="6.20" height="6.20" fill="#00B050" stroke="#000" stroke-width="0.7"/>
<text x="103.10" y="275.60" font-size="11.2" text-anchor="start" textLength="165.59" lengthAdjust="spacingAndGlyphs">Biomass productivity (mg/L/day)</text>
<rect x="93.80" y="285.20" width="6.20" height="6.20" fill="#124660" stroke="#000" stroke-width="0.7"/>
<text x="103.10" y="292.30" font-size="11.2" text-anchor="start" textLength="97.90" lengthAdjust="spacingAndGlyphs">Total lipids (% w/w)</text>
<rect x="93.80" y="301.80" width="6.20" height="6.20" fill="#C00000" stroke="#000" stroke-width="0.7"/>
<text x="103.10" y="308.90" font-size="11.2" text-anchor="start" textLength="178.10" lengthAdjust="spacingAndGlyphs">Total lipids productivity (mg/L/day)</text>
<text x="0" y="0" font-size="12.5" text-anchor="middle" transform="translate(10.10 381.50) rotate(-90)" textLength="126.1" lengthAdjust="spacingAndGlyphs">Biomass productivity</text>
<text x="0" y="0" font-size="12.5" text-anchor="middle" transform="translate(26.40 381.80) rotate(-90)" textLength="155.4" lengthAdjust="spacingAndGlyphs">Lipid content/productivity</text>
<text x="318.20" y="285.80" font-size="15" text-anchor="start">(d)</text>
<line x1="387.30" y1="299.90" x2="387.30" y2="458.30" stroke="#595959" stroke-width="1"/>
<line x1="621.50" y1="299.90" x2="621.50" y2="458.30" stroke="#595959" stroke-width="1"/>
<line x1="383.30" y1="458.30" x2="387.30" y2="458.30" stroke="#595959" stroke-width="1"/>
<text x="374.60" y="462.00" font-size="12.1" text-anchor="end" textLength="17.60" lengthAdjust="spacingAndGlyphs">0.0</text>
<line x1="383.30" y1="440.70" x2="387.30" y2="440.70" stroke="#595959" stroke-width="1"/>
<text x="374.60" y="444.40" font-size="12.1" text-anchor="end" textLength="17.60" lengthAdjust="spacingAndGlyphs">5.0</text>
<line x1="383.30" y1="423.10" x2="387.30" y2="423.10" stroke="#595959" stroke-width="1"/>
<text x="374.60" y="426.80" font-size="12.1" text-anchor="end" textLength="24.90" lengthAdjust="spacingAndGlyphs">10.0</text>
<line x1="383.30" y1="405.50" x2="387.30" y2="405.50" stroke="#595959" stroke-width="1"/>
<text x="374.60" y="409.20" font-size="12.1" text-anchor="end" textLength="24.90" lengthAdjust="spacingAndGlyphs">15.0</text>
<line x1="383.30" y1="387.90" x2="387.30" y2="387.90" stroke="#595959" stroke-width="1"/>
<text x="374.60" y="391.60" font-size="12.1" text-anchor="end" textLength="24.90" lengthAdjust="spacingAndGlyphs">20.0</text>
<line x1="383.30" y1="370.30" x2="387.30" y2="370.30" stroke="#595959" stroke-width="1"/>
<text x="374.60" y="374.00" font-size="12.1" text-anchor="end" textLength="24.90" lengthAdjust="spacingAndGlyphs">25.0</text>
<line x1="383.30" y1="352.70" x2="387.30" y2="352.70" stroke="#595959" stroke-width="1"/>
<text x="374.60" y="356.40" font-size="12.1" text-anchor="end" textLength="24.90" lengthAdjust="spacingAndGlyphs">30.0</text>
<line x1="383.30" y1="335.10" x2="387.30" y2="335.10" stroke="#595959" stroke-width="1"/>
<text x="374.60" y="338.80" font-size="12.1" text-anchor="end" textLength="24.90" lengthAdjust="spacingAndGlyphs">35.0</text>
<line x1="383.30" y1="317.50" x2="387.30" y2="317.50" stroke="#595959" stroke-width="1"/>
<text x="374.60" y="321.20" font-size="12.1" text-anchor="end" textLength="24.90" lengthAdjust="spacingAndGlyphs">40.0</text>
<line x1="383.30" y1="299.90" x2="387.30" y2="299.90" stroke="#595959" stroke-width="1"/>
<text x="374.60" y="303.60" font-size="12.1" text-anchor="end" textLength="24.90" lengthAdjust="spacingAndGlyphs">45.0</text>
<line x1="621.50" y1="458.30" x2="625.50" y2="458.30" stroke="#595959" stroke-width="1"/>
<text x="634.30" y="462.00" font-size="12.1" text-anchor="start" textLength="17.40" lengthAdjust="spacingAndGlyphs">0.0</text>
<line x1="621.50" y1="438.50" x2="625.50" y2="438.50" stroke="#595959" stroke-width="1"/>
<text x="634.30" y="442.20" font-size="12.1" text-anchor="start" textLength="17.40" lengthAdjust="spacingAndGlyphs">1.0</text>
<line x1="621.50" y1="418.70" x2="625.50" y2="418.70" stroke="#595959" stroke-width="1"/>
<text x="634.30" y="422.40" font-size="12.1" text-anchor="start" textLength="17.40" lengthAdjust="spacingAndGlyphs">2.0</text>
<line x1="621.50" y1="398.90" x2="625.50" y2="398.90" stroke="#595959" stroke-width="1"/>
<text x="634.30" y="402.60" font-size="12.1" text-anchor="start" textLength="17.40" lengthAdjust="spacingAndGlyphs">3.0</text>
<line x1="621.50" y1="379.10" x2="625.50" y2="379.10" stroke="#595959" stroke-width="1"/>
<text x="634.30" y="382.80" font-size="12.1" text-anchor="start" textLength="17.40" lengthAdjust="spacingAndGlyphs">4.0</text>
<line x1="621.50" y1="359.30" x2="625.50" y2="359.30" stroke="#595959" stroke-width="1"/>
<text x="634.30" y="363.00" font-size="12.1" text-anchor="start" textLength="17.40" lengthAdjust="spacingAndGlyphs">5.0</text>
<line x1="621.50" y1="339.50" x2="625.50" y2="339.50" stroke="#595959" stroke-width="1"/>
<text x="634.30" y="343.20" font-size="12.1" text-anchor="start" textLength="17.40" lengthAdjust="spacingAndGlyphs">6.0</text>
<line x1="621.50" y1="319.70" x2="625.50" y2="319.70" stroke="#595959" stroke-width="1"/>
<text x="634.30" y="323.40" font-size="12.1" text-anchor="start" textLength="17.40" lengthAdjust="spacingAndGlyphs">7.0</text>
<line x1="621.50" y1="299.90" x2="625.50" y2="299.90" stroke="#595959" stroke-width="1"/>
<text x="634.30" y="303.60" font-size="12.1" text-anchor="start" textLength="17.40" lengthAdjust="spacingAndGlyphs">8.0</text>
<line x1="401.80" y1="458.30" x2="401.80" y2="461.30" stroke="#595959" stroke-width="1"/>
<line x1="431.10" y1="458.30" x2="431.10" y2="461.30" stroke="#595959" stroke-width="1"/>
<line x1="460.40" y1="458.30" x2="460.40" y2="461.30" stroke="#595959" stroke-width="1"/>
<line x1="489.70" y1="458.30" x2="489.70" y2="461.30" stroke="#595959" stroke-width="1"/>
<line x1="519.00" y1="458.30" x2="519.00" y2="461.30" stroke="#595959" stroke-width="1"/>
<line x1="548.30" y1="458.30" x2="548.30" y2="461.30" stroke="#595959" stroke-width="1"/>
<line x1="577.60" y1="458.30" x2="577.60" y2="461.30" stroke="#595959" stroke-width="1"/>
<line x1="606.90" y1="458.30" x2="606.90" y2="461.30" stroke="#595959" stroke-width="1"/>
<rect x="395.30" y="448.80" width="6.50" height="9.50" fill="#E97132" stroke="#6b3512" stroke-width="0.7"/>
<rect x="402.00" y="325.24" width="6.80" height="133.06" fill="#8ED973" stroke="#45683a" stroke-width="0.7"/>
<path d="M398.55,445.83V451.77M396.55,445.83H400.55M396.55,451.77H400.55" stroke="#000" stroke-width="1.1" fill="none"/>
<path d="M405.40,314.35V336.13M403.40,314.35H407.40M403.40,336.13H407.40" stroke="#000" stroke-width="1.1" fill="none"/>
<rect x="424.60" y="420.28" width="6.50" height="38.02" fill="#E97132" stroke="#6b3512" stroke-width="0.7"/>
<rect x="431.30" y="409.99" width="6.80" height="48.31" fill="#8ED973" stroke="#45683a" stroke-width="0.7"/>
<path d="M427.85,419.29V421.27M425.85,419.29H429.85M425.85,421.27H429.85" stroke="#000" stroke-width="1.1" fill="none"/>
<path d="M434.70,404.05V415.93M432.70,404.05H436.70M432.70,415.93H436.70" stroke="#000" stroke-width="1.1" fill="none"/>
<rect x="453.90" y="410.78" width="6.50" height="47.52" fill="#E97132" stroke="#6b3512" stroke-width="0.7"/>
<rect x="460.60" y="447.01" width="6.80" height="11.29" fill="#8ED973" stroke="#45683a" stroke-width="0.7"/>
<path d="M457.15,404.84V416.72M455.15,404.84H459.15M455.15,416.72H459.15" stroke="#000" stroke-width="1.1" fill="none"/>
<path d="M464.00,444.04V449.98M462.00,444.04H466.00M462.00,449.98H466.00" stroke="#000" stroke-width="1.1" fill="none"/>
<rect x="483.20" y="422.07" width="6.50" height="36.23" fill="#E97132" stroke="#6b3512" stroke-width="0.7"/>
<rect x="489.90" y="447.01" width="6.80" height="11.29" fill="#8ED973" stroke="#45683a" stroke-width="0.7"/>
<path d="M486.45,417.12V427.02M484.45,417.12H488.45M484.45,427.02H488.45" stroke="#000" stroke-width="1.1" fill="none"/>
<path d="M493.30,444.04V449.98M491.30,444.04H495.30M491.30,449.98H495.30" stroke="#000" stroke-width="1.1" fill="none"/>
<rect x="512.50" y="417.31" width="6.50" height="40.99" fill="#E97132" stroke="#6b3512" stroke-width="0.7"/>
<rect x="519.20" y="450.38" width="6.80" height="7.92" fill="#8ED973" stroke="#45683a" stroke-width="0.7"/>
<path d="M515.75,416.32V418.30M513.75,416.32H517.75M513.75,418.30H517.75" stroke="#000" stroke-width="1.1" fill="none"/>
<path d="M522.60,448.40V452.36M520.60,448.40H524.60M520.60,452.36H524.60" stroke="#000" stroke-width="1.1" fill="none"/>
<rect x="541.80" y="421.27" width="6.50" height="37.03" fill="#E97132" stroke="#6b3512" stroke-width="0.7"/>
<rect x="548.50" y="450.18" width="6.80" height="8.12" fill="#8ED973" stroke="#45683a" stroke-width="0.7"/>
<path d="M545.05,413.35V429.19M543.05,413.35H547.05M543.05,429.19H547.05" stroke="#000" stroke-width="1.1" fill="none"/>
<path d="M551.90,448.60V451.77M549.90,448.60H553.90M549.90,451.77H553.90" stroke="#000" stroke-width="1.1" fill="none"/>
<rect x="571.10" y="422.86" width="6.50" height="35.44" fill="#E97132" stroke="#6b3512" stroke-width="0.7"/>
<rect x="577.80" y="452.36" width="6.80" height="5.94" fill="#8ED973" stroke="#45683a" stroke-width="0.7"/>
<path d="M574.35,412.96V432.76M572.35,412.96H576.35M572.35,432.76H576.35" stroke="#000" stroke-width="1.1" fill="none"/>
<path d="M581.20,451.96V452.76M579.20,451.96H583.20M579.20,452.76H583.20" stroke="#000" stroke-width="1.1" fill="none"/>
<rect x="600.40" y="422.46" width="6.50" height="35.84" fill="#E97132" stroke="#6b3512" stroke-width="0.7"/>
<rect x="607.10" y="423.65" width="6.80" height="34.65" fill="#8ED973" stroke="#45683a" stroke-width="0.7"/>
<path d="M603.65,418.50V426.42M601.65,418.50H605.65M601.65,426.42H605.65" stroke="#000" stroke-width="1.1" fill="none"/>
<path d="M610.50,416.13V431.17M608.50,416.13H612.50M608.50,431.17H612.50" stroke="#000" stroke-width="1.1" fill="none"/>
<line x1="383.80" y1="458.30" x2="625.50" y2="458.30" stroke="#000" stroke-width="1.1"/>
<text x="397.80" y="441.01" font-size="10.3" text-anchor="middle">c</text>
<text x="422.10" y="417.47" font-size="10.3" text-anchor="middle">ab</text>
<text x="456.90" y="400.11" font-size="10.3" text-anchor="middle">a</text>
<text x="486.00" y="414.67" font-size="10.3" text-anchor="middle">ab</text>
<text x="515.40" y="412.77" font-size="10.3" text-anchor="middle">ab</text>
<text x="544.60" y="411.47" font-size="10.3" text-anchor="middle">ab</text>
<text x="572.90" y="410.07" font-size="10.3" text-anchor="middle">b</text>
<text x="602.10" y="414.17" font-size="10.3" text-anchor="middle">b</text>
<text x="405.00" y="307.31" font-size="10.3" text-anchor="middle">a</text>
<text x="435.30" y="395.57" font-size="10.3" text-anchor="middle">b</text>
<text x="463.50" y="441.57" font-size="10.3" text-anchor="middle">d</text>
<text x="493.00" y="444.87" font-size="10.3" text-anchor="middle">d</text>
<text x="523.50" y="447.07" font-size="10.3" text-anchor="middle">d</text>
<text x="553.20" y="446.57" font-size="10.3" text-anchor="middle">d</text>
<text x="583.20" y="451.17" font-size="10.3" text-anchor="middle">d</text>
<text x="612.00" y="409.71" font-size="10.3" text-anchor="middle">c</text>
<text x="396.30" y="350.31" font-size="10.3" text-anchor="middle">c</text>
<text x="430.50" y="331.87" font-size="10.3" text-anchor="middle">b</text>
<text x="460.30" y="306.81" font-size="10.3" text-anchor="middle">a</text>
<text x="487.10" y="346.77" font-size="10.3" text-anchor="middle">cd</text>
<text x="518.90" y="371.91" font-size="10.3" text-anchor="middle">e</text>
<text x="550.00" y="368.77" font-size="10.3" text-anchor="middle">de</text>
<text x="574.30" y="346.37" font-size="10.3" text-anchor="middle">bc</text>
<text x="604.80" y="342.57" font-size="10.3" text-anchor="middle">bc</text>
<path d="M401.80,362.56 L431.10,347.77 L460.40,320.67 L489.70,371.71 L519.00,386.14 L548.30,379.45 L577.60,358.33 L606.90,357.63" fill="none" stroke="#000" stroke-width="2.0" stroke-dasharray="0.01 4.1" stroke-linecap="round"/>
<path d="M401.80,357.28V367.84M399.80,357.28H403.80M399.80,367.84H403.80" stroke="#000" stroke-width="1.1" fill="none"/>
<circle cx="401.80" cy="362.56" r="2.3" fill="#145F86" stroke="#0b2a3a" stroke-width="0.7"/>
<path d="M431.10,339.68V355.87M429.10,339.68H433.10M429.10,355.87H433.10" stroke="#000" stroke-width="1.1" fill="none"/>
<circle cx="431.10" cy="347.77" r="2.3" fill="#145F86" stroke="#0b2a3a" stroke-width="0.7"/>
<path d="M460.40,312.57V328.76M458.40,312.57H462.40M458.40,328.76H462.40" stroke="#000" stroke-width="1.1" fill="none"/>
<circle cx="460.40" cy="320.67" r="2.3" fill="#145F86" stroke="#0b2a3a" stroke-width="0.7"/>
<path d="M489.70,355.87V387.55M487.70,355.87H491.70M487.70,387.55H491.70" stroke="#000" stroke-width="1.1" fill="none"/>
<circle cx="489.70" cy="371.71" r="2.3" fill="#145F86" stroke="#0b2a3a" stroke-width="0.7"/>
<path d="M519.00,378.04V394.24M517.00,378.04H521.00M517.00,394.24H521.00" stroke="#000" stroke-width="1.1" fill="none"/>
<circle cx="519.00" cy="386.14" r="2.3" fill="#145F86" stroke="#0b2a3a" stroke-width="0.7"/>
<path d="M548.30,377.69V381.21M546.30,377.69H550.30M546.30,381.21H550.30" stroke="#000" stroke-width="1.1" fill="none"/>
<circle cx="548.30" cy="379.45" r="2.3" fill="#145F86" stroke="#0b2a3a" stroke-width="0.7"/>
<path d="M577.60,354.11V362.56M575.60,354.11H579.60M575.60,362.56H579.60" stroke="#000" stroke-width="1.1" fill="none"/>
<circle cx="577.60" cy="358.33" r="2.3" fill="#145F86" stroke="#0b2a3a" stroke-width="0.7"/>
<path d="M606.90,349.88V365.37M604.90,349.88H608.90M604.90,365.37H608.90" stroke="#000" stroke-width="1.1" fill="none"/>
<circle cx="606.90" cy="357.63" r="2.3" fill="#145F86" stroke="#0b2a3a" stroke-width="0.7"/>
<rect x="483.90" y="285.30" width="24.10" height="7.30" fill="#E97132" stroke="#6b3512" stroke-width="0.7"/>
<rect x="483.90" y="301.00" width="24.10" height="7.40" fill="#8ED973" stroke="#45683a" stroke-width="0.7"/>
<path d="M484,320.6 H508" fill="none" stroke="#000" stroke-width="2.0" stroke-dasharray="0.01 4.1" stroke-linecap="round"/>
<circle cx="495.80" cy="320.60" r="2.3" fill="#145F86" stroke="#0b2a3a" stroke-width="0.7"/>
<text x="511.50" y="292.30" font-size="12.0" text-anchor="start" textLength="85.00" lengthAdjust="spacingAndGlyphs">Phospholipids</text>
<text x="511.50" y="307.50" font-size="12.0" text-anchor="start" textLength="66.60" lengthAdjust="spacingAndGlyphs">Glycolipids</text>
<text x="511.50" y="322.90" font-size="12.0" text-anchor="start" textLength="80.11" lengthAdjust="spacingAndGlyphs">Neutral lipids</text>
<text x="513.00" y="501.40" font-size="12.5" text-anchor="middle" textLength="67.71" lengthAdjust="spacingAndGlyphs">Treatments</text>
<text x="401.80" y="478.40" font-size="12.6" text-anchor="middle" textLength="13.10" lengthAdjust="spacingAndGlyphs">T1</text>
<text x="431.10" y="478.40" font-size="12.6" text-anchor="middle" textLength="13.10" lengthAdjust="spacingAndGlyphs">T2</text>
<text x="460.40" y="478.40" font-size="12.6" text-anchor="middle" textLength="13.10" lengthAdjust="spacingAndGlyphs">T3</text>
<text x="489.70" y="478.40" font-size="12.6" text-anchor="middle" textLength="13.10" lengthAdjust="spacingAndGlyphs">T4</text>
<text x="519.00" y="478.40" font-size="12.6" text-anchor="middle" textLength="13.10" lengthAdjust="spacingAndGlyphs">T5</text>
<text x="548.30" y="478.40" font-size="12.6" text-anchor="middle" textLength="13.10" lengthAdjust="spacingAndGlyphs">T6</text>
<text x="577.60" y="478.40" font-size="12.6" text-anchor="middle" textLength="13.10" lengthAdjust="spacingAndGlyphs">T7</text>
<text x="606.90" y="478.40" font-size="12.6" text-anchor="middle" textLength="13.10" lengthAdjust="spacingAndGlyphs">T8</text>
<text x="0" y="0" font-size="11.6" text-anchor="middle" transform="translate(338.60 377.90) rotate(-90)" textLength="128.0" lengthAdjust="spacingAndGlyphs">Neutral lipids (% w/w)</text>
<text x="0" y="0" font-size="12.0" text-anchor="middle" transform="translate(665.90 355.90) rotate(-90)" textLength="91.5" lengthAdjust="spacingAndGlyphs">Phospholipids &amp;</text>
<text x="0" y="0" font-size="12.0" text-anchor="middle" transform="translate(681.70 355.40) rotate(-90)" textLength="106.6" lengthAdjust="spacingAndGlyphs">Glycolipids <tspan font-weight="normal" font-size="10.5">(%w/w)</tspan></text>
<text x="128.40" y="527.80" font-size="15" text-anchor="start">(e)</text>
<line x1="194.50" y1="544.05" x2="194.50" y2="693.30" stroke="#595959" stroke-width="1"/>
<line x1="438.20" y1="544.00" x2="438.20" y2="693.30" stroke="#595959" stroke-width="1"/>
<line x1="190.00" y1="693.30" x2="194.50" y2="693.30" stroke="#595959" stroke-width="1"/>
<text x="182.30" y="697.10" font-size="12.1" text-anchor="end" textLength="17.60" lengthAdjust="spacingAndGlyphs">0.0</text>
<line x1="190.00" y1="663.45" x2="194.50" y2="663.45" stroke="#595959" stroke-width="1"/>
<text x="182.30" y="667.25" font-size="12.1" text-anchor="end" textLength="17.60" lengthAdjust="spacingAndGlyphs">5.0</text>
<line x1="190.00" y1="633.60" x2="194.50" y2="633.60" stroke="#595959" stroke-width="1"/>
<text x="182.30" y="637.40" font-size="12.1" text-anchor="end" textLength="25.10" lengthAdjust="spacingAndGlyphs">10.0</text>
<line x1="190.00" y1="603.75" x2="194.50" y2="603.75" stroke="#595959" stroke-width="1"/>
<text x="182.30" y="607.55" font-size="12.1" text-anchor="end" textLength="25.10" lengthAdjust="spacingAndGlyphs">15.0</text>
<line x1="190.00" y1="573.90" x2="194.50" y2="573.90" stroke="#595959" stroke-width="1"/>
<text x="182.30" y="577.70" font-size="12.1" text-anchor="end" textLength="25.10" lengthAdjust="spacingAndGlyphs">20.0</text>
<line x1="190.00" y1="544.05" x2="194.50" y2="544.05" stroke="#595959" stroke-width="1"/>
<text x="182.30" y="547.85" font-size="12.1" text-anchor="end" textLength="25.10" lengthAdjust="spacingAndGlyphs">25.0</text>
<line x1="438.20" y1="693.30" x2="442.00" y2="693.30" stroke="#595959" stroke-width="1"/>
<text x="449.80" y="697.10" font-size="12.1" text-anchor="start" textLength="17.50" lengthAdjust="spacingAndGlyphs">0.0</text>
<line x1="438.20" y1="663.44" x2="442.00" y2="663.44" stroke="#595959" stroke-width="1"/>
<text x="449.80" y="667.24" font-size="12.1" text-anchor="start" textLength="17.50" lengthAdjust="spacingAndGlyphs">1.0</text>
<line x1="438.20" y1="633.58" x2="442.00" y2="633.58" stroke="#595959" stroke-width="1"/>
<text x="449.80" y="637.38" font-size="12.1" text-anchor="start" textLength="17.50" lengthAdjust="spacingAndGlyphs">2.0</text>
<line x1="438.20" y1="603.72" x2="442.00" y2="603.72" stroke="#595959" stroke-width="1"/>
<text x="449.80" y="607.52" font-size="12.1" text-anchor="start" textLength="17.50" lengthAdjust="spacingAndGlyphs">3.0</text>
<line x1="438.20" y1="573.86" x2="442.00" y2="573.86" stroke="#595959" stroke-width="1"/>
<text x="449.80" y="577.66" font-size="12.1" text-anchor="start" textLength="17.50" lengthAdjust="spacingAndGlyphs">4.0</text>
<line x1="438.20" y1="544.00" x2="442.00" y2="544.00" stroke="#595959" stroke-width="1"/>
<text x="449.80" y="547.80" font-size="12.1" text-anchor="start" textLength="17.50" lengthAdjust="spacingAndGlyphs">5.0</text>
<rect x="202.40" y="684.34" width="7.00" height="8.96" fill="#E97132" stroke="#6b3512" stroke-width="0.7"/>
<rect x="209.40" y="567.89" width="7.30" height="125.41" fill="#8ED973" stroke="#45683a" stroke-width="0.7"/>
<path d="M205.90,681.36V687.33M203.90,681.36H207.90M203.90,687.33H207.90" stroke="#000" stroke-width="1.1" fill="none"/>
<path d="M213.05,557.44V578.34M211.05,557.44H215.05M211.05,578.34H215.05" stroke="#000" stroke-width="1.1" fill="none"/>
<rect x="232.80" y="677.77" width="7.00" height="15.53" fill="#E97132" stroke="#6b3512" stroke-width="0.7"/>
<rect x="239.80" y="673.29" width="7.30" height="20.01" fill="#8ED973" stroke="#45683a" stroke-width="0.7"/>
<path d="M236.30,677.18V678.37M234.30,677.18H238.30M234.30,678.37H238.30" stroke="#000" stroke-width="1.1" fill="none"/>
<path d="M243.45,671.20V675.38M241.45,671.20H245.45M241.45,675.38H245.45" stroke="#000" stroke-width="1.1" fill="none"/>
<rect x="263.20" y="656.27" width="7.00" height="37.03" fill="#E97132" stroke="#6b3512" stroke-width="0.7"/>
<rect x="270.20" y="684.94" width="7.30" height="8.36" fill="#8ED973" stroke="#45683a" stroke-width="0.7"/>
<path d="M266.70,651.20V661.35M264.70,651.20H268.70M264.70,661.35H268.70" stroke="#000" stroke-width="1.1" fill="none"/>
<path d="M273.85,682.55V687.33M271.85,682.55H275.85M271.85,687.33H275.85" stroke="#000" stroke-width="1.1" fill="none"/>
<rect x="293.60" y="657.17" width="7.00" height="36.13" fill="#E97132" stroke="#6b3512" stroke-width="0.7"/>
<rect x="300.60" y="682.25" width="7.30" height="11.05" fill="#8ED973" stroke="#45683a" stroke-width="0.7"/>
<path d="M297.10,651.79V662.54M295.10,651.79H299.10M295.10,662.54H299.10" stroke="#000" stroke-width="1.1" fill="none"/>
<path d="M304.25,679.27V685.24M302.25,679.27H306.25M302.25,685.24H306.25" stroke="#000" stroke-width="1.1" fill="none"/>
<rect x="324.00" y="648.21" width="7.00" height="45.09" fill="#E97132" stroke="#6b3512" stroke-width="0.7"/>
<rect x="331.00" y="684.94" width="7.30" height="8.36" fill="#8ED973" stroke="#45683a" stroke-width="0.7"/>
<path d="M327.50,647.02V649.41M325.50,647.02H329.50M325.50,649.41H329.50" stroke="#000" stroke-width="1.1" fill="none"/>
<path d="M334.65,682.85V687.03M332.65,682.85H336.65M332.65,687.03H336.65" stroke="#000" stroke-width="1.1" fill="none"/>
<rect x="354.40" y="653.59" width="7.00" height="39.71" fill="#E97132" stroke="#6b3512" stroke-width="0.7"/>
<rect x="361.40" y="684.04" width="7.30" height="9.26" fill="#8ED973" stroke="#45683a" stroke-width="0.7"/>
<path d="M357.90,644.63V662.54M355.90,644.63H359.90M355.90,662.54H359.90" stroke="#000" stroke-width="1.1" fill="none"/>
<path d="M365.05,682.55V685.54M363.05,682.55H367.05M363.05,685.54H367.05" stroke="#000" stroke-width="1.1" fill="none"/>
<rect x="384.80" y="655.38" width="7.00" height="37.92" fill="#E97132" stroke="#6b3512" stroke-width="0.7"/>
<rect x="391.80" y="686.73" width="7.30" height="6.57" fill="#8ED973" stroke="#45683a" stroke-width="0.7"/>
<path d="M388.30,644.63V666.13M386.30,644.63H390.30M386.30,666.13H390.30" stroke="#000" stroke-width="1.1" fill="none"/>
<path d="M395.45,686.13V687.33M393.45,686.13H397.45M393.45,687.33H397.45" stroke="#000" stroke-width="1.1" fill="none"/>
<rect x="415.20" y="652.99" width="7.00" height="40.31" fill="#E97132" stroke="#6b3512" stroke-width="0.7"/>
<rect x="422.20" y="654.48" width="7.30" height="38.82" fill="#8ED973" stroke="#45683a" stroke-width="0.7"/>
<path d="M418.70,648.81V657.17M416.70,648.81H420.70M416.70,657.17H420.70" stroke="#000" stroke-width="1.1" fill="none"/>
<path d="M425.85,645.52V663.44M423.85,645.52H427.85M423.85,663.44H427.85" stroke="#000" stroke-width="1.1" fill="none"/>
<line x1="190.00" y1="693.30" x2="442.00" y2="693.30" stroke="#000" stroke-width="1.1"/>
<path d="M209.40,594.20 L239.80,638.38 L270.20,569.12 L300.60,586.44 L331.00,598.38 L361.40,595.39 L391.80,569.72 L422.20,558.97" fill="none" stroke="#000" stroke-width="2.0" stroke-dasharray="0.01 4.1" stroke-linecap="round"/>
<path d="M209.40,591.21V597.18M207.40,591.21H211.40M207.40,597.18H211.40" stroke="#000" stroke-width="1.1" fill="none"/>
<circle cx="209.40" cy="594.20" r="2.3" fill="#145F86" stroke="#0b2a3a" stroke-width="0.7"/>
<path d="M239.80,637.18V639.57M237.80,637.18H241.80M237.80,639.57H241.80" stroke="#000" stroke-width="1.1" fill="none"/>
<circle cx="239.80" cy="638.38" r="2.3" fill="#145F86" stroke="#0b2a3a" stroke-width="0.7"/>
<path d="M270.20,566.74V571.51M268.20,566.74H272.20M268.20,571.51H272.20" stroke="#000" stroke-width="1.1" fill="none"/>
<circle cx="270.20" cy="569.12" r="2.3" fill="#145F86" stroke="#0b2a3a" stroke-width="0.7"/>
<path d="M300.60,576.29V596.59M298.60,576.29H302.60M298.60,596.59H302.60" stroke="#000" stroke-width="1.1" fill="none"/>
<circle cx="300.60" cy="586.44" r="2.3" fill="#145F86" stroke="#0b2a3a" stroke-width="0.7"/>
<path d="M331.00,595.99V600.76M329.00,595.99H333.00M329.00,600.76H333.00" stroke="#000" stroke-width="1.1" fill="none"/>
<circle cx="331.00" cy="598.38" r="2.3" fill="#145F86" stroke="#0b2a3a" stroke-width="0.7"/>
<path d="M361.40,594.20V596.59M359.40,594.20H363.40M359.40,596.59H363.40" stroke="#000" stroke-width="1.1" fill="none"/>
<circle cx="361.40" cy="595.39" r="2.3" fill="#145F86" stroke="#0b2a3a" stroke-width="0.7"/>
<path d="M391.80,566.14V573.30M389.80,566.14H393.80M389.80,573.30H393.80" stroke="#000" stroke-width="1.1" fill="none"/>
<circle cx="391.80" cy="569.72" r="2.3" fill="#145F86" stroke="#0b2a3a" stroke-width="0.7"/>
<path d="M422.20,553.60V564.35M420.20,553.60H424.20M420.20,564.35H424.20" stroke="#000" stroke-width="1.1" fill="none"/>
<circle cx="422.20" cy="558.97" r="2.3" fill="#145F86" stroke="#0b2a3a" stroke-width="0.7"/>
<text x="213.00" y="554.51" font-size="10.3" text-anchor="middle">a</text>
<text x="201.20" y="589.37" font-size="10.3" text-anchor="middle">cd</text>
<text x="238.70" y="626.71" font-size="10.3" text-anchor="middle">e</text>
<text x="264.20" y="563.87" font-size="10.3" text-anchor="middle">b</text>
<text x="205.50" y="678.07" font-size="10.3" text-anchor="middle">b</text>
<text x="236.00" y="671.47" font-size="10.3" text-anchor="middle">b</text>
<text x="243.00" y="667.11" font-size="10.3" text-anchor="middle">c</text>
<text x="266.70" y="646.61" font-size="10.3" text-anchor="middle">a</text>
<text x="273.80" y="680.67" font-size="10.3" text-anchor="middle">d</text>
<text x="296.90" y="645.31" font-size="10.3" text-anchor="middle">a</text>
<text x="308.70" y="675.17" font-size="10.3" text-anchor="middle">cd</text>
<text x="326.30" y="643.41" font-size="10.3" text-anchor="middle">a</text>
<text x="335.50" y="680.37" font-size="10.3" text-anchor="middle">d</text>
<text x="357.70" y="640.81" font-size="10.3" text-anchor="middle">a</text>
<text x="364.70" y="676.47" font-size="10.3" text-anchor="middle">d</text>
<text x="388.30" y="642.81" font-size="10.3" text-anchor="middle">a</text>
<text x="395.20" y="682.87" font-size="10.3" text-anchor="middle">d</text>
<text x="418.20" y="647.01" font-size="10.3" text-anchor="middle">a</text>
<text x="428.50" y="643.17" font-size="10.3" text-anchor="middle">b</text>
<text x="420.70" y="550.71" font-size="10.3" text-anchor="middle">a</text>
<text x="390.50" y="559.97" font-size="10.3" text-anchor="middle">b</text>
<text x="358.60" y="583.57" font-size="10.3" text-anchor="middle">cd</text>
<text x="332.20" y="591.37" font-size="10.3" text-anchor="middle">d</text>
<text x="299.30" y="570.71" font-size="10.3" text-anchor="middle">c</text>
<rect x="280.10" y="520.40" width="23.80" height="6.10" fill="#E97132" stroke="#6b3512" stroke-width="0.7"/>
<rect x="280.10" y="533.40" width="23.80" height="6.20" fill="#8ED973" stroke="#45683a" stroke-width="0.7"/>
<path d="M280.5,550.2 H304" fill="none" stroke="#000" stroke-width="2.0" stroke-dasharray="0.01 4.1" stroke-linecap="round"/>
<circle cx="291.90" cy="550.20" r="2.3" fill="#145F86" stroke="#0b2a3a" stroke-width="0.7"/>
<text x="307.10" y="525.70" font-size="10.2" text-anchor="start" textLength="73.10" lengthAdjust="spacingAndGlyphs">Phospholipids</text>
<text x="307.10" y="539.30" font-size="10.2" text-anchor="start" textLength="57.50" lengthAdjust="spacingAndGlyphs">Glycolipids</text>
<text x="307.10" y="553.00" font-size="10.2" text-anchor="start" textLength="68.81" lengthAdjust="spacingAndGlyphs">Neutral lipids</text>
<text x="209.40" y="714.30" font-size="12.8" text-anchor="middle" textLength="11.90" lengthAdjust="spacingAndGlyphs">T1</text>
<text x="239.80" y="714.30" font-size="12.8" text-anchor="middle" textLength="11.90" lengthAdjust="spacingAndGlyphs">T2</text>
<text x="270.20" y="714.30" font-size="12.8" text-anchor="middle" textLength="11.90" lengthAdjust="spacingAndGlyphs">T3</text>
<text x="300.60" y="714.30" font-size="12.8" text-anchor="middle" textLength="11.90" lengthAdjust="spacingAndGlyphs">T4</text>
<text x="331.00" y="714.30" font-size="12.8" text-anchor="middle" textLength="11.90" lengthAdjust="spacingAndGlyphs">T5</text>
<text x="361.40" y="714.30" font-size="12.8" text-anchor="middle" textLength="11.90" lengthAdjust="spacingAndGlyphs">T6</text>
<text x="391.80" y="714.30" font-size="12.8" text-anchor="middle" textLength="11.90" lengthAdjust="spacingAndGlyphs">T7</text>
<text x="422.20" y="714.30" font-size="12.8" text-anchor="middle" textLength="11.90" lengthAdjust="spacingAndGlyphs">T8</text>
<text x="311.00" y="730.20" font-size="12.5" text-anchor="middle" textLength="67.71" lengthAdjust="spacingAndGlyphs">Treatments</text>
<text x="0" y="0" font-size="11.6" text-anchor="middle" transform="translate(135.20 618.40) rotate(-90)" textLength="79.1" lengthAdjust="spacingAndGlyphs">Neutral lipids</text>
<text x="0" y="0" font-size="11.6" text-anchor="middle" transform="translate(149.90 617.80) rotate(-90)" textLength="82.5">(mg L<tspan dy="-4.5" font-size="8">−1</tspan><tspan dy="4.5"> day</tspan><tspan dy="-4.5" font-size="8">−1</tspan><tspan dy="4.5"> )</tspan></text>
<text x="0" y="0" font-size="11.6" text-anchor="middle" transform="translate(483.60 611.40) rotate(-90)" textLength="95.4" lengthAdjust="spacingAndGlyphs">Phospholipids &amp;</text>
<text x="0" y="0" font-size="11.6" text-anchor="middle" transform="translate(498.60 608.50) rotate(-90)" textLength="143.0">Glycolipids (mg L<tspan dy="-4.5" font-size="8">−1</tspan><tspan dy="4.5"> day</tspan><tspan dy="-4.5" font-size="8">−1</tspan><tspan dy="4.5"> )</tspan></text>
</svg>
</body></html>
